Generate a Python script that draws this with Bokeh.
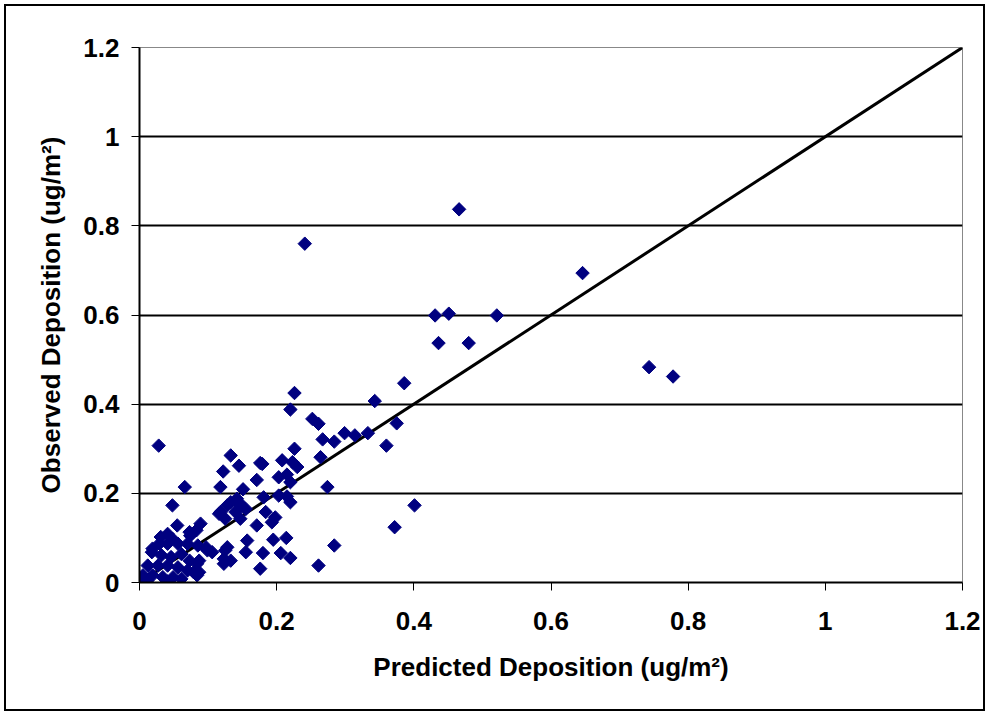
import numpy as np
from bokeh.plotting import figure
from bokeh.models import Range1d, FixedTicker, InlineStyleSheet
from bokeh.embed import file_html
from bokeh.resources import INLINE

# Data
predicted = [
    0.466, 0.241, 0.646, 0.431, 0.451, 0.521, 0.436, 0.480, 0.743, 0.778, 0.386,
    0.226, 0.220, 0.343, 0.252, 0.261, 0.375, 0.267, 0.284, 0.299, 0.314, 0.333,
    0.360, 0.226, 0.264, 0.179, 0.208, 0.223, 0.230, 0.203, 0.215, 0.220, 0.274,
    0.181, 0.203, 0.215, 0.220, 0.184, 0.198, 0.193, 0.401, 0.372, 0.195, 0.214,
    0.284, 0.180, 0.206, 0.220, 0.261, 0.176,
    0.028, 0.133, 0.145, 0.176, 0.122, 0.171, 0.066, 0.118, 0.151, 0.048, 0.133,
    0.145, 0.118, 0.140, 0.155, 0.055, 0.089, 0.074, 0.171, 0.157, 0.031, 0.048,
    0.018, 0.128, 0.106, 0.155, 0.123, 0.133, 0.084,
    0.142, 0.128, 0.147, 0.125, 0.147, 0.116, 0.099, 0.125, 0.123, 0.084, 0.079,
    0.073, 0.083, 0.041, 0.029, 0.019, 0.041, 0.056, 0.070, 0.085, 0.097, 0.032,
    0.046, 0.061, 0.073, 0.087, 0.012, 0.027, 0.041, 0.056, 0.070, 0.087, 0.005,
    0.019, 0.034, 0.049, 0.061, 0.003, 0.041, 0.011,
]
observed = [
    0.837, 0.760, 0.694, 0.599, 0.603, 0.599, 0.537, 0.537, 0.483, 0.462, 0.447,
    0.425, 0.388, 0.407, 0.367, 0.356, 0.357, 0.321, 0.316, 0.335, 0.330, 0.335,
    0.307, 0.300, 0.281, 0.266, 0.274, 0.270, 0.259, 0.236, 0.242, 0.225, 0.214,
    0.191, 0.195, 0.193, 0.180, 0.158, 0.146, 0.135, 0.173, 0.124, 0.096, 0.100,
    0.083, 0.066, 0.066, 0.055, 0.038, 0.031,
    0.307, 0.285, 0.262, 0.268, 0.249, 0.230, 0.214, 0.214, 0.209, 0.173, 0.180,
    0.180, 0.158, 0.158, 0.165, 0.128, 0.132, 0.105, 0.128, 0.094, 0.102, 0.098,
    0.068, 0.079, 0.068, 0.068, 0.053, 0.049, 0.016,
    0.188, 0.173, 0.173, 0.143, 0.143, 0.154, 0.072, 0.072, 0.042, 0.042, 0.023,
    0.113, 0.117, 0.109, 0.087, 0.076, 0.087, 0.087, 0.087, 0.083, 0.079, 0.061,
    0.057, 0.064, 0.049, 0.049, 0.038, 0.038, 0.038, 0.034, 0.027, 0.023, 0.016,
    0.016, 0.012, 0.012, 0.008, 0.003, 0.002, 0.004,
]
one_to_one = [0.0, 1.2]
tick_values = [0.0, 0.2, 0.4, 0.6, 0.8, 1.0, 1.2]
tick_labels = ["0", "0.2", "0.4", "0.6", "0.8", "1", "1.2"]
x_title = "Predicted Deposition (ug/m²)"
y_title = "Observed Deposition (ug/m²)"

FONT = "Liberation Sans"

p = figure(width=989, height=715, output_backend="svg", toolbar_location=None,
           x_range=Range1d(0, 1.2), y_range=Range1d(0, 1.2),
           min_border_left=139, min_border_right=27,
           min_border_top=47, min_border_bottom=133)
p.background_fill_color = "white"
p.border_fill_color = "white"
p.outline_line_color = "#888888"
p.outline_line_width = 1

overrides = {}
for t, lab in zip(tick_values, tick_labels):
    key = int(t) if float(t).is_integer() else t
    overrides[key] = lab

for ax in (p.xaxis[0], p.yaxis[0]):
    ax.ticker = FixedTicker(ticks=tick_values)
    ax.major_label_overrides = overrides
    ax.minor_tick_line_color = None
    ax.axis_line_color = "black"
    ax.axis_line_width = 2
    ax.major_tick_line_color = "black"
    ax.major_tick_line_width = 1
    ax.major_tick_in = 0
    ax.major_tick_out = 8
    ax.major_label_text_font = FONT
    ax.major_label_text_font_style = "bold"
    ax.major_label_text_font_size = "26px"
    ax.major_label_text_color = "black"
    ax.axis_label_text_font = FONT
    ax.axis_label_text_font_style = "bold"
    ax.axis_label_text_font_size = "26px"
    ax.axis_label_text_color = "black"

p.xaxis.axis_label = x_title
p.yaxis.axis_label = y_title
p.xaxis.major_label_standoff = 21
p.xaxis.axis_label_standoff = 19
p.yaxis.major_label_standoff = 12
p.yaxis.axis_label_standoff = 14

p.xgrid.visible = False
p.ygrid.ticker = FixedTicker(ticks=tick_values[1:-1])
p.ygrid.grid_line_color = "black"
p.ygrid.grid_line_width = 2

p.line(one_to_one, one_to_one, line_color="black", line_width=3)
p.scatter(predicted, observed, marker="square", angle=np.pi / 4, size=9.5,
          fill_color="#000080", line_color="#000080", line_width=1)

# outer chart-area border (drawn over the canvas edges)
p.stylesheets = [InlineStyleSheet(css="""
:host { position: relative; }
:host::after {
  content: ""; position: absolute; left: 4px; top: 4px; right: 4px; bottom: 4px;
  border: 2px solid black; pointer-events: none; z-index: 100;
}
""")]

open("out.html", "w").write(file_html(p, INLINE))
